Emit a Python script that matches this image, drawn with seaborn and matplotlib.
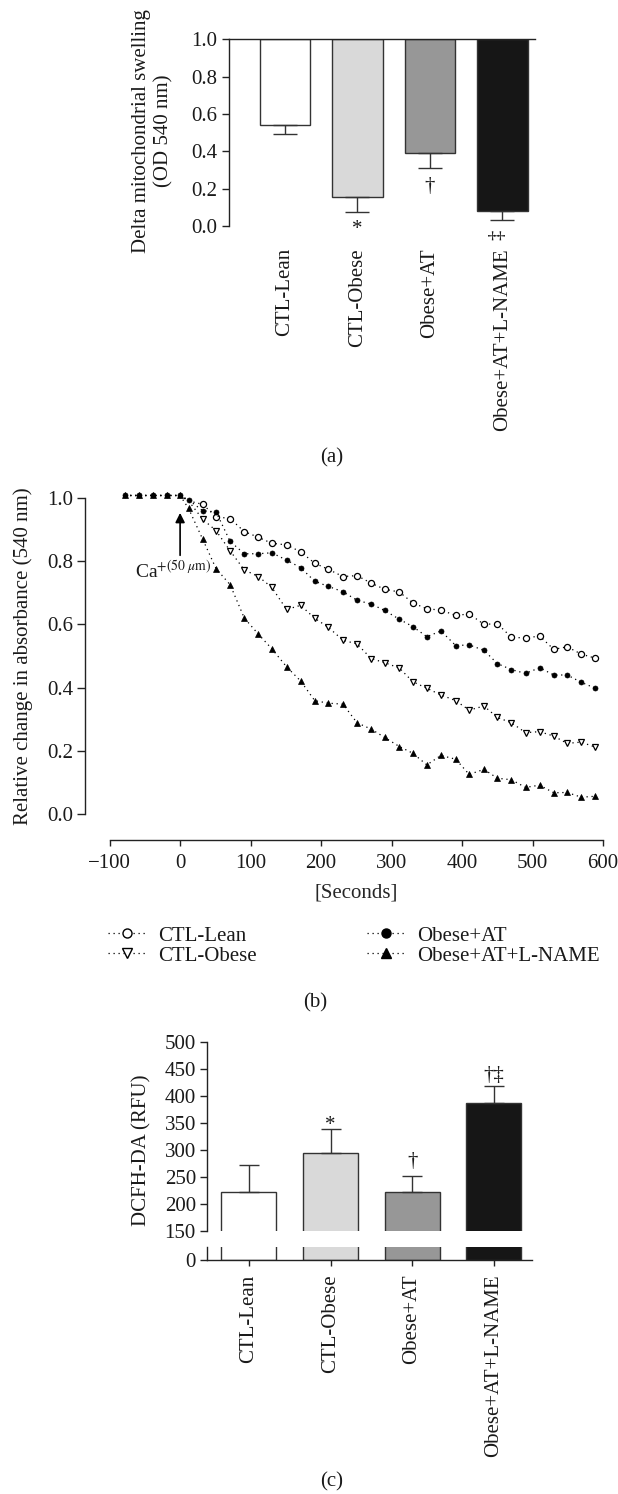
import numpy as np
import matplotlib
matplotlib.use("Agg")
import matplotlib.pyplot as plt
from matplotlib.lines import Line2D
import seaborn as sns

# ---------------- data ----------------
groups = ["CTL-Lean", "CTL-Obese", "Obese+AT", "Obese+AT+L-NAME"]
bar_colors = ["#ffffff", "#d9d9d9", "#979797", "#161616"]

# (a) delta mitochondrial swelling (bars hang from 1.0)
swelling_mean = [0.54, 0.155, 0.39, 0.08]
swelling_err = [0.045, 0.08, 0.08, 0.048]
swelling_marks = ["", "*", "\u2020", "\u2021"]

# (b) relative change in absorbance
time_s = [-78, -59, -39, -18, 0, 12,
          32, 51, 71, 91, 111, 130, 151, 171, 191, 210, 231, 251, 271, 290,
          311, 330, 350, 370, 391, 410, 431, 450, 470, 490, 510, 530, 549, 569, 589]
lean = [1.007, 1.007, 1.007, 1.007, 1.007, 0.99,
        0.979, 0.940, 0.934, 0.893, 0.875, 0.856, 0.851, 0.829, 0.793, 0.774,
        0.751, 0.754, 0.730, 0.711, 0.702, 0.668, 0.649, 0.645, 0.628, 0.633,
        0.600, 0.602, 0.559, 0.557, 0.563, 0.521, 0.529, 0.506, 0.493]
obese = [1.007, 1.007, 1.007, 1.007, 1.007, 0.99,
         0.932, 0.896, 0.832, 0.772, 0.751, 0.717, 0.647, 0.660, 0.619, 0.591,
         0.550, 0.538, 0.492, 0.479, 0.462, 0.419, 0.398, 0.377, 0.359, 0.329,
         0.342, 0.306, 0.289, 0.258, 0.261, 0.247, 0.224, 0.228, 0.212]
obese_at = [1.007, 1.007, 1.007, 1.007, 1.007, 0.993,
            0.959, 0.955, 0.862, 0.823, 0.823, 0.826, 0.803, 0.779, 0.736, 0.720,
            0.703, 0.676, 0.664, 0.644, 0.616, 0.593, 0.561, 0.579, 0.533, 0.535,
            0.518, 0.476, 0.457, 0.445, 0.463, 0.440, 0.440, 0.417, 0.398]
obese_at_lname = [1.007, 1.007, 1.007, 1.007, 1.007, 0.966,
                  0.869, 0.776, 0.725, 0.620, 0.569, 0.523, 0.466, 0.421, 0.359, 0.351,
                  0.348, 0.289, 0.269, 0.243, 0.214, 0.193, 0.156, 0.186, 0.174, 0.126,
                  0.142, 0.114, 0.109, 0.085, 0.092, 0.068, 0.069, 0.054, 0.057]

# (c) DCFH-DA
dcfh_mean = [222, 294, 222, 388]
dcfh_err = [50, 45, 30, 30]
dcfh_marks = ["", "*", "\u2020", "\u2020\u2021"]

# ---------------- style ----------------
sns.set_theme(style="ticks")
plt.rcParams["font.family"] = ["Liberation Serif", "DejaVu Serif"]
plt.rcParams["mathtext.fontset"] = "stix"
plt.rcParams["font.size"] = 15
plt.rcParams["text.color"] = "#1a1a1a"
plt.rcParams["axes.edgecolor"] = "#222222"
plt.rcParams["axes.linewidth"] = 1.0
plt.rcParams["xtick.color"] = "#222222"
plt.rcParams["ytick.color"] = "#222222"
plt.rcParams["xtick.labelcolor"] = "#1a1a1a"
plt.rcParams["ytick.labelcolor"] = "#1a1a1a"
plt.rcParams["xtick.labelsize"] = 15
plt.rcParams["ytick.labelsize"] = 15
plt.rcParams["xtick.major.width"] = 1.0
plt.rcParams["ytick.major.width"] = 1.0

W, H = 618, 1494
fig = plt.figure(figsize=(W / 100, H / 100), dpi=100)


def box(l, t, r, b):
    return [l / W, 1 - b / H, (r - l) / W, (b - t) / H]


EDGE = "#333333"
FS = 15

# ---------------- (a) ----------------
ax_a = fig.add_axes(box(228.6, 39.3, 534.9, 226.0))
sns.barplot(x=groups, y=[m - 1.0 for m in swelling_mean], hue=groups,
            palette=bar_colors, saturation=1, legend=False, errorbar=None,
            width=0.69, bottom=1.0, edgecolor=EDGE, linewidth=1.0,
            ax=ax_a, zorder=2)
ax_a.errorbar(range(len(groups)), swelling_mean,
              yerr=[swelling_err, [0] * len(groups)], fmt="none",
              ecolor=EDGE, elinewidth=1.0, capsize=8.5, capthick=1.0, zorder=3)
ax_a.set_xlim(-0.778, 3.447)
ax_a.set_ylim(0, 1.0)
ax_a.set_yticks(np.arange(0, 1.01, 0.2))
ax_a.set_yticklabels([f"{v:.1f}" for v in np.arange(0, 1.01, 0.2)])
ax_a.set_xticks(range(len(groups)))
ax_a.set_xticklabels(groups, rotation=90, va="top", ha="center")
ax_a.tick_params(axis="x", length=0, pad=16)
ax_a.tick_params(axis="y", length=5, pad=3, direction="out")
for s in ["right", "bottom"]:
    ax_a.spines[s].set_visible(False)
ax_a.set_xlabel("")
ax_a.set_ylabel("")
a_pos = [(1, swelling_mean[1] - swelling_err[1] - 0.095, 0),
         (2, swelling_mean[2] - swelling_err[2] - 0.10, 0),
         (2.93, swelling_mean[3] - swelling_err[3] - 0.08, 90)]
for (x, y, rot), mk in zip(a_pos, swelling_marks[1:]):
    ax_a.text(x, y, mk, ha="center", va="center", fontsize=FS, rotation=rot)
fig.text(152.8 / W, 1 - 131 / H, "Delta mitochondrial swelling\n(OD 540 nm)",
         rotation=90, ha="center", va="center", fontsize=FS,
         multialignment="center")
fig.text(332 / W, 1 - 458 / H, "(a)", ha="center", va="center", fontsize=FS)

# ---------------- (b) ----------------
ax_b = fig.add_axes(box(109.6, 497.7, 603.1, 814.3))
dot = (0, (1, 3))
series = [
    ("CTL-Lean", lean, dict(marker="o", markersize=4.4, markerfacecolor="white",
                            markeredgecolor="black", markeredgewidth=0.9,
                            markevery=slice(6, None))),
    ("CTL-Obese", obese, dict(marker="v", markersize=5.0, markerfacecolor="white",
                              markeredgecolor="black", markeredgewidth=0.9,
                              markevery=slice(6, None))),
    ("Obese+AT", obese_at, dict(marker="o", markersize=3.6, markerfacecolor="black",
                                markeredgecolor="black", markeredgewidth=0.5)),
    ("Obese+AT+L-NAME", obese_at_lname, dict(marker="^", markersize=4.5,
                                             markerfacecolor="black",
                                             markeredgecolor="black",
                                             markeredgewidth=0.5)),
]
for name, vals, kw in series:
    sns.lineplot(x=time_s, y=vals, ax=ax_b, color="black", linewidth=0.9,
                 linestyle=dot, clip_on=False, legend=False, **kw)
ax_b.set_xlim(-100, 600)
ax_b.set_ylim(0, 1.0)
ax_b.set_xticks(range(-100, 601, 100))
ax_b.set_yticks(np.arange(0, 1.01, 0.2))
ax_b.set_yticklabels([f"{v:.1f}" for v in np.arange(0, 1.01, 0.2)])
for s in ["top", "right"]:
    ax_b.spines[s].set_visible(False)
ax_b.spines["left"].set_position(("outward", 18))
ax_b.spines["bottom"].set_position(("outward", 18.5))
ax_b.tick_params(axis="y", length=6, pad=2)
ax_b.tick_params(axis="x", length=4, pad=6)
ax_b.set_xlabel("[Seconds]", fontsize=FS)
ax_b.xaxis.set_label_coords(0.5, (814.3 - 893) / 316.6)
ax_b.xaxis.label.set_va("center")
ax_b.set_ylabel("")
fig.text(23.6 / W, 1 - 656 / H, "Relative change in absorbance (540 nm)",
         rotation=90, ha="center", va="center", fontsize=FS)
ax_b.annotate("", xy=(0, 0.952), xytext=(0, 0.818),
              arrowprops=dict(arrowstyle="-|>", color="black", lw=1.2,
                              mutation_scale=14, shrinkA=0, shrinkB=0))
ax_b.text(-64, 0.745, r"Ca$^{+(50\ \mu\mathrm{m})}$", ha="left", va="baseline",
          fontsize=14)

handles = [
    Line2D([], [], color="black", lw=0.9, ls=dot, marker="o", ms=6.5,
           mfc="white", mec="black", mew=1.0),
    Line2D([], [], color="black", lw=0.9, ls=dot, marker="v", ms=7.5,
           mfc="white", mec="black", mew=1.0),
    Line2D([], [], color="black", lw=0.9, ls=dot, marker="o", ms=6.5,
           mfc="black", mec="black"),
    Line2D([], [], color="black", lw=0.9, ls=dot, marker="^", ms=7.5,
           mfc="black", mec="black"),
]
ax_b.legend(handles, [s[0] for s in series], loc="upper left",
            bbox_to_anchor=(108.4 / W, 1 - 926 / H), bbox_transform=fig.transFigure,
            ncol=2, frameon=False, fontsize=FS, handlelength=1.8,
            handletextpad=0.6, columnspacing=5.3, labelspacing=0.02,
            borderpad=0, borderaxespad=0)
fig.text(315 / W, 1 - 1003 / H, "(b)", ha="center", va="center", fontsize=FS)

# ---------------- (c) ----------------
ax_ct = fig.add_axes(box(207, 1042.3, 532, 1230.7))
ax_cb = fig.add_axes(box(207, 1246.7, 532, 1260))
for ax in (ax_ct, ax_cb):
    sns.barplot(x=groups, y=dcfh_mean, hue=groups, palette=bar_colors,
                saturation=1, legend=False, errorbar=None, width=0.675,
                edgecolor=EDGE, linewidth=1.0, ax=ax, zorder=2)
    ax.set_xlim(-0.514, 3.47)
    ax.set_xlabel("")
    ax.set_ylabel("")
    ax.patch.set_alpha(0)
ax_ct.errorbar(range(len(groups)), dcfh_mean,
               yerr=[[0] * len(groups), dcfh_err], fmt="none", ecolor=EDGE,
               elinewidth=1.0, capsize=7.5, capthick=1.0, zorder=3)
ax_ct.set_ylim(150, 500)
ax_ct.set_yticks(range(150, 501, 50))
ax_ct.set_xticks([])
for s in ["top", "right", "bottom"]:
    ax_ct.spines[s].set_visible(False)
ax_ct.tick_params(axis="y", length=5, pad=3)
c_off = [7, 26, 20]
for i, (mk, off) in enumerate(zip(dcfh_marks[1:], c_off), start=1):
    ax_ct.text(i, dcfh_mean[i] + dcfh_err[i] + off, mk, ha="center",
               va="center", fontsize=FS)

ax_cb.set_ylim(0, 25)
ax_cb.set_yticks([0])
ax_cb.set_xticks(range(len(groups)))
ax_cb.set_xticklabels(groups, rotation=90, va="top", ha="center")
for s in ["top", "right"]:
    ax_cb.spines[s].set_visible(False)
ax_cb.tick_params(axis="y", length=5, pad=3)
ax_cb.tick_params(axis="x", length=4.5, pad=6)
fig.text(141.9 / W, 1 - 1150 / H, "DCFH-DA (RFU)", rotation=90,
         ha="center", va="center", fontsize=FS)
fig.text(332 / W, 1 - 1482 / H, "(c)", ha="center", va="center", fontsize=FS)

fig.savefig("out.png", dpi=100)
